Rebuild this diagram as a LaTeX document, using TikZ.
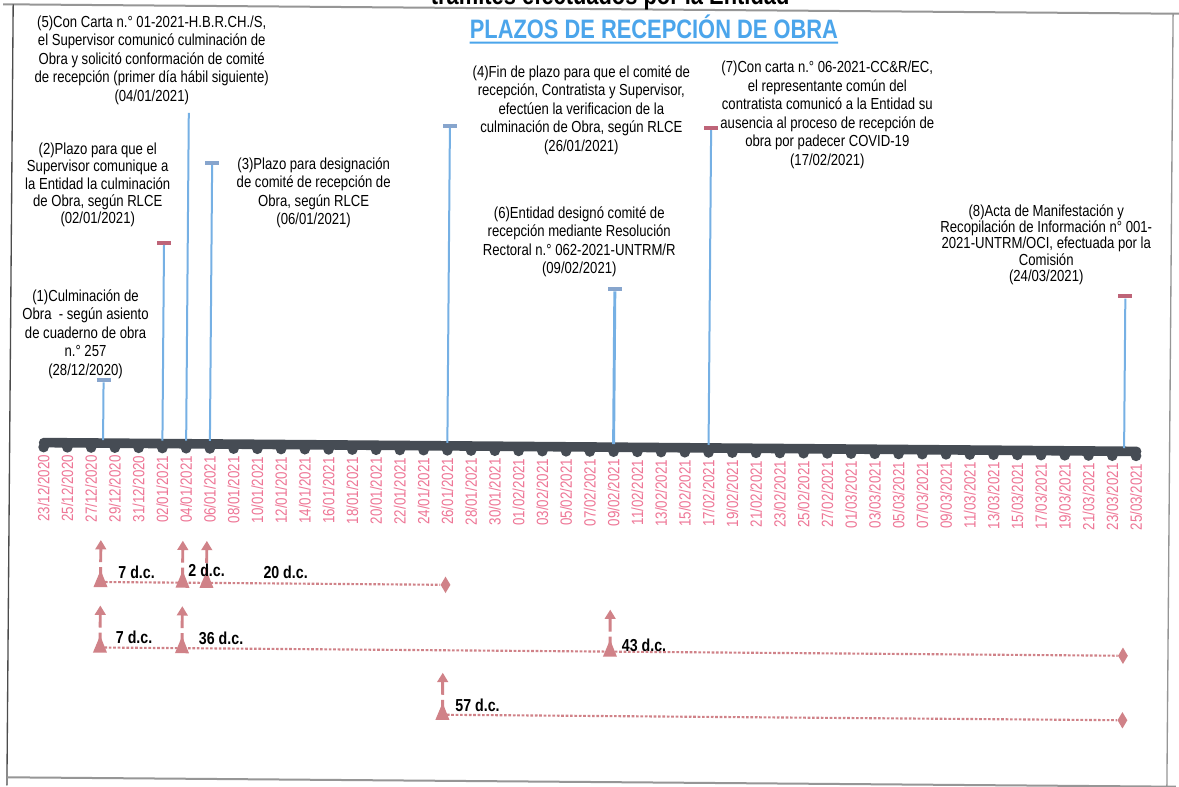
\documentclass[tikz,border=0pt]{standalone}
\usepackage{fontspec}
\setmainfont{Liberation Sans}
\newfontfamily\nar[FakeStretch=0.82]{Liberation Sans}
\usetikzlibrary{arrows.meta,shapes.geometric}
\definecolor{barc}{RGB}{70,76,84}
\definecolor{datec}{RGB}{238,118,150}
\definecolor{linec}{RGB}{118,176,228}
\definecolor{capblue}{RGB}{135,165,205}
\definecolor{capred}{RGB}{190,100,120}
\definecolor{mauve}{RGB}{208,130,136}
\definecolor{titlec}{RGB}{75,165,235}
\definecolor{framec}{RGB}{150,150,150}
\begin{document}
\begin{tikzpicture}[x=0.75pt,y=-0.75pt,
  txt/.style={align=center,inner sep=0,font=\nar\fontsize{12}{13.9}\selectfont},
  datelbl/.style={rotate=90,anchor=east,inner sep=0,text=datec,font=\nar\fontsize{12.2}{13}\selectfont},
  vline/.style={draw=linec,line width=1.5pt},
  capbl/.style={rectangle,fill=capblue,minimum width=10.5pt,minimum height=3pt,inner sep=0},
  caprd/.style={capbl,fill=capred},
  dotline/.style={draw=mauve,line width=1.6pt,dash pattern=on 2pt off 1.3pt},
  uparr/.style={draw=mauve,line width=2.2pt,-{Triangle[width=8pt,length=7pt]}},
  dmd/.style={diamond,fill=mauve,minimum width=7.5pt,minimum height=12.5pt,inner sep=0},
  dclbl/.style={inner sep=0,font=\nar\bfseries\fontsize{13}{15}\selectfont}]
\useasboundingbox (0,0) rectangle (1179,787);
\clip (0,0) rectangle (1179,787);
\fill[white] (0,0) rectangle (1179,787);
\begin{scope}[rotate around={-0.46:(590,400)}]
% frame
\draw[framec,line width=1.5pt] (0,9) -- (1179,9);
\draw[black!70,line width=1pt] (10,9) -- (10,790);
\draw[framec,line width=1pt] (1170,9) -- (1170,790);
\draw[framec,line width=1.5pt] (10,782) -- (1179,782);
% top cut text and title
\node[anchor=base,inner sep=0,font=\nar\bfseries\fontsize{20}{24}\selectfont] (cut) at (607,4) {trámites efectuados por la Entidad};
\node[anchor=base,inner sep=0,text=titlec,font=\nar\bfseries\fontsize{20}{24}\selectfont] (title) at (651,38) {PLAZOS DE RECEPCIÓN DE OBRA};
\draw[titlec,line width=1.5pt] ([yshift=-3pt]title.base west) -- ([yshift=-3pt]title.base east);
% timeline bar
\draw[barc,line width=7.2pt,line cap=round] (44,447) -- (1137,447);
\foreach \d [count=\i from 0] in {23/12/2020,25/12/2020,27/12/2020,29/12/2020,31/12/2020,02/01/2021,04/01/2021,06/01/2021,08/01/2021,10/01/2021,12/01/2021,14/01/2021,16/01/2021,18/01/2021,20/01/2021,22/01/2021,24/01/2021,26/01/2021,28/01/2021,30/01/2021,01/02/2021,03/02/2021,05/02/2021,07/02/2021,09/02/2021,11/02/2021,13/02/2021,15/02/2021,17/02/2021,19/02/2021,21/02/2021,23/02/2021,25/02/2021,27/02/2021,01/03/2021,03/03/2021,05/03/2021,07/03/2021,09/03/2021,11/03/2021,13/03/2021,15/03/2021,17/03/2021,19/03/2021,21/03/2021,23/03/2021,25/03/2021}{
  \fill[barc] ({44+23.75*\i},451.5) circle (4pt);
  \node[datelbl] (d\i) at ({44+23.75*\i},459) {\d};
}
% callout lines
\node[capbl] (c1) at (103.4,384) {};
\coordinate (b1) at (103.4,444);
\node[caprd] (c2) at (162.75,246) {};
\coordinate (b2) at (162.75,444);
\coordinate (c5) at (186.5,116);
\coordinate (b5) at (186.5,444);
\node[capbl] (c3) at (210.25,166) {};
\coordinate (b3) at (210.25,444);
\node[capbl] (c4) at (447.75,127) {};
\coordinate (b4) at (447.75,444);
\node[caprd] (c7) at (709,127) {};
\coordinate (b7) at (709,444);
\node[capbl] (c6) at (614,289) {};
\coordinate (b6) at (614,444);
\node[caprd] (c8) at (1124.6,292) {};
\coordinate (b8) at (1124.6,444);
\draw[vline] (c1.south) -- (b1);
\draw[vline] (c2.south) -- (b2);
\draw[vline] (c5) -- (b5);
\draw[vline] (c3.south) -- (b3);
\draw[vline] (c4.south) -- (b4);
\draw[vline] (c7.south) -- (b7);
\draw[vline,line width=2.2pt] (c6.south) -- (b6);
\draw[vline] (c8.south) -- (b8);
% texts
\node[txt] (t5) at (149,63.5) {(5)Con Carta n.° 01-2021-H.B.R.CH./S,\\el Supervisor comunicó culminación de\\Obra y solicitó conformación de comité\\de recepción (primer día hábil siguiente)\\(04/01/2021)};
\node[txt,font=\nar\fontsize{12}{12.9}\selectfont] (t2) at (96,189) {(2)Plazo para que el\\Supervisor comunique a\\la Entidad la culminación\\de Obra, según RLCE\\(02/01/2021)};
\node[txt] (t3) at (312,195) {(3)Plazo para designación\\de comité de recepción de\\Obra, según RLCE\\(06/01/2021)};
\node[txt] (t1) at (85,338) {(1)Culminación de\\Obra~ - según asiento\\de cuaderno de obra\\n.° 257\\(28/12/2020)};
\node[txt] (t4) at (579,110) {(4)Fin de plazo para que el comité de\\recepción, Contratista y Supervisor,\\efectúen la verificacion de la\\culminación de Obra, según RLCE\\(26/01/2021)};
\node[txt] (t7) at (825,113) {(7)Con carta n.° 06-2021-CC\&R/EC,\\el representante común del\\contratista comunicó a la Entidad su\\ausencia al proceso de recepción de\\obra por padecer COVID-19\\(17/02/2021)};
\node[txt] (t6) at (578,242) {(6)Entidad designó comité de\\recepción mediante Resolución\\Rectoral n.° 062-2021-UNTRM/R\\(09/02/2021)};
\node[txt,font=\nar\fontsize{12}{12.2}\selectfont] (t8) at (1045,241) {(8)Acta de Manifestación y\\Recopilación de Información n° 001-\\2021-UNTRM/OCI, efectuada por la\\Comisión\\(24/03/2021)};
% interval rows
\foreach \x/\y/\n in {102/586/a,184/586/b,208/586/c,102/651.5/d,184/651.5/e,612/651.5/f,445/716/g}{
  \fill[mauve] (\x,{\y-12}) -- ({\x-7},{\y+5}) -- ({\x+7},{\y+5}) -- cycle;
  \fill[mauve] ({\x-1.5},{\y-15}) rectangle ({\x+1.5},{\y-6});
  \coordinate (m\n) at (\x,\y);
  \coordinate (p\n) at (\x,{\y-20});
  \coordinate (q\n) at (\x,{\y-42});
  \draw[uparr] (p\n) -- (q\n);
}
\node[dmd] (e1) at (447,586) {};
\node[dmd] (e2) at (1125,651.5) {};
\node[dmd] (e3) at (1125,716) {};
\draw[dotline] (ma) -- (e1.west);
\draw[dotline] (md) -- (e2.west);
\draw[dotline] (mg) -- (e3.west);
\node[dclbl] (l1) at (138,575.6) {7 d.c.};
\node[dclbl] (l2) at (208,573) {2 d.c.};
\node[dclbl] (l3) at (287,574.4) {20 d.c.};
\node[dclbl] (l4) at (136,640.6) {7 d.c.};
\node[dclbl] (l5) at (223,641) {36 d.c.};
\node[dclbl] (l6) at (646,644.5) {43 d.c.};
\node[dclbl] (l7) at (480,706) {57 d.c.};
\end{scope}
\end{tikzpicture}
\end{document}
